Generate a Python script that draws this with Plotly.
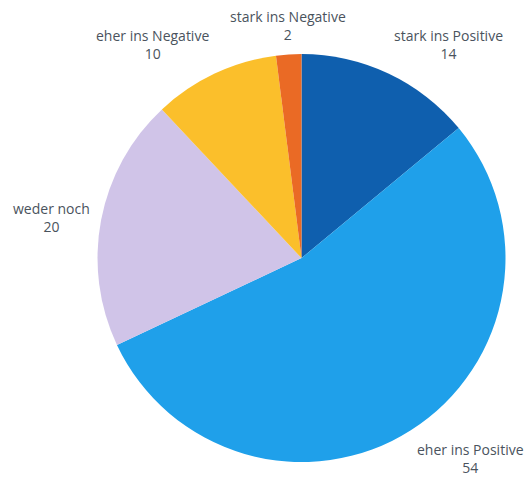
import math
import plotly.graph_objects as go

# Survey answer categories and counts (clockwise from 12 o'clock)
categories = ["stark ins Positive", "eher ins Positive", "weder noch",
              "eher ins Negative", "stark ins Negative"]
counts = [14, 54, 20, 10, 2]
colors = ["#0f5fae", "#1fa0ea", "#d0c4e8", "#fbbf2b", "#ea6a25"]

W, H = 528, 478
dom_x = [0.1847, 0.9574]
dom_y = [0.0333, 0.8868]

fig = go.Figure(go.Pie(
    labels=categories,
    values=counts,
    marker=dict(colors=colors, line=dict(width=0)),
    sort=False,
    direction="clockwise",
    rotation=0,
    textinfo="none",
    hoverinfo="skip",
    showlegend=False,
    domain=dict(x=dom_x, y=dom_y),
))

# Pie geometry in pixels (margins are zero, so paper == page)
cx = (dom_x[0] + dom_x[1]) / 2 * W
cy = (1 - (dom_y[0] + dom_y[1]) / 2) * H
radius = min((dom_x[1] - dom_x[0]) * W, (dom_y[1] - dom_y[0]) * H) / 2
label_r = radius + 10

total = sum(counts)
cum = 0
for name, val in zip(categories, counts):
    mid = (cum + val / 2) / total * 2 * math.pi
    cum += val
    sx, sy = math.sin(mid), -math.cos(mid)  # screen direction (y down)
    px = cx + label_r * sx
    py = cy + label_r * sy
    if sx > 0.2:
        xa = "left"
    elif sx < -0.2:
        xa = "right"
    else:
        xa = "center"
    if sy < -0.5:
        ya = "bottom"
    elif sy > 0.5:
        ya = "top"
    else:
        ya = "middle"
    fig.add_annotation(
        x=px / W, y=1 - py / H, xref="paper", yref="paper",
        text=f"{name}<br>{val}", showarrow=False,
        xanchor=xa, yanchor=ya, align="center", borderpad=0,
        font=dict(family="Open Sans", size=14, color="#4a535d"),
    )

fig.update_layout(
    width=W, height=H,
    margin=dict(l=0, r=0, t=0, b=0),
    paper_bgcolor="white",
    plot_bgcolor="white",
)

fig.write_html("out.html")
